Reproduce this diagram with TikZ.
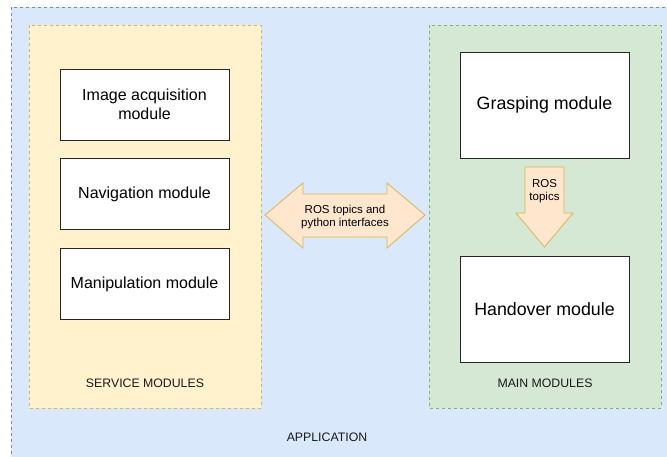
\documentclass[tikz,border=0pt]{standalone}
\usepackage{fontspec}
\setmainfont{Liberation Sans}
\usetikzlibrary{positioning}

\definecolor{appfill}{HTML}{DAE8FC}
\definecolor{appline}{HTML}{6C8EBF}
\definecolor{servfill}{HTML}{FFF2CC}
\definecolor{servline}{HTML}{D6B656}
\definecolor{mainfill}{HTML}{D5E8D4}
\definecolor{mainline}{HTML}{82B366}
\definecolor{arrfill}{HTML}{FFE6CC}

\tikzset{
  group/.style={dash pattern=on 3pt off 3pt, line width=0.7pt},
  module/.style={draw=black!85, fill=white, line width=0.8pt, align=center,
    inner sep=0pt, font=\fontsize{16}{19.5}\selectfont},
  bigmodule/.style={module, minimum width=169pt, minimum height=106pt,
    font=\fontsize{17.8}{21}\selectfont},
  grouplabel/.style={font=\fontsize{12.3}{14}\selectfont, text=black!90},
  flow/.style={draw=servline, fill=arrfill, line width=0.8pt},
  flowlabel/.style={align=center, font=\fontsize{11.5}{12.5}\selectfont}
}

\begin{document}
\begin{tikzpicture}[x=1pt, y=-1pt]
\useasboundingbox (0,0) rectangle (667,456);

% application frame and the two module groups
\path[group, draw=appline, fill=appfill] (11,7) rectangle (690,480);
\path[group, draw=servline, fill=servfill] (29,25) rectangle (261,408);
\path[group, draw=mainline, fill=mainfill] (429,25) rectangle (661,408);

% service modules
\node[module, minimum width=169pt, minimum height=71pt] (acq) at (144.5,104.5)
  {Image acquisition\\module};
\node[module, minimum width=169pt, minimum height=71pt, below=18pt of acq] (nav)
  {Navigation module};
\node[module, minimum width=169pt, minimum height=71pt, below=18pt of nav] (manip)
  {Manipulation module};

% main modules
\node[bigmodule] (grasp) at (544.5,105) {Grasping module};
\node[bigmodule] (handover) at (544.5,309) {Handover module};

% group labels
\node[grouplabel] (servlbl) at (145,383) {SERVICE MODULES};
\node[grouplabel] (mainlbl) at (545,383) {MAIN MODULES};
\node[grouplabel] (applbl) at (327,437) {APPLICATION};

% two-way link between the groups
\draw[flow] (265,215) -- (303,183) -- (303,194) -- (387,194) -- (387,183)
  -- (425,215) -- (387,248) -- (387,237) -- (303,237) -- (303,248) -- cycle;
\node[flowlabel] (link) at (345,217) {ROS topics and\\python interfaces};

% grasping -> handover
\draw[flow] (525,167) -- (564,167) -- (564,213) -- (573,213) -- (544.5,247)
  -- (516,213) -- (525,213) -- cycle;
\node[flowlabel] (topics) at (544.5,191) {ROS\\topics};
\end{tikzpicture}
\end{document}
